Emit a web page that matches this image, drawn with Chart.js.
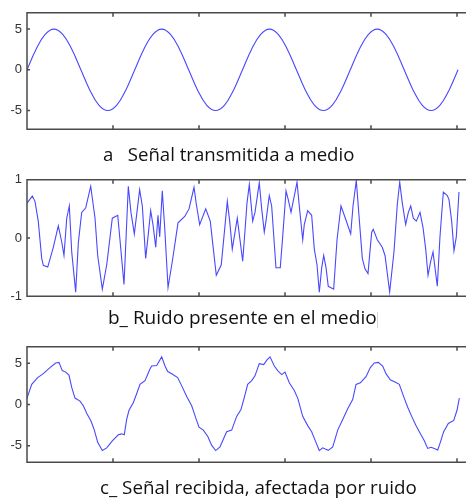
<!DOCTYPE html>
<html>
<head>
<meta charset="utf-8">
<script src="https://cdn.jsdelivr.net/npm/chart.js@4/dist/chart.umd.min.js"></script>
<style>
    html, body { margin: 0; padding: 0; background: #fff; }
    #page { position: relative; width: 466px; height: 500px; overflow: hidden; }
    canvas { position: absolute; left: 0; }
    .cap {
        position: absolute; white-space: pre; color: #111;
        font-family: "Open Sans", Lato, sans-serif; line-height: 1;
    }
    .mark { position: absolute; background: #d4d4d4; }
</style>
</head>
<body>
<div id="page">
    <canvas id="chart-a" width="466" height="142" style="top:0"></canvas>
    <canvas id="chart-b" width="466" height="142" style="top:167px"></canvas>
    <canvas id="chart-c" width="466" height="141" style="top:334px"></canvas>
    <div class="cap" style="left:103px; top:144.5px; font-size:18.6px">a   Señal transmitida a medio</div>
    <div class="cap" style="left:108px; top:308.1px; font-size:19px">b_ Ruido presente en el medio</div>
    <div class="mark" style="left:377px; top:312px; width:1px; height:16px"></div>
    <div class="cap" style="left:100px; top:478px; font-size:18.8px">c_ Señal recibida, afectada por ruido</div>
</div>
<script>
// x axis: time units, ticks at every unit (no labels shown)
const xTicks = [0, 1, 2, 3, 4, 5];

// a: transmitted signal (12 samples per period)
const sineStep = 0.10442;
const sineA = [
    0, 2.5, 4.33, 5, 4.33, 2.5, 0, -2.5, -4.33, -5, -4.33, -2.5,
    0, 2.5, 4.33, 5, 4.33, 2.5, 0, -2.5, -4.33, -5, -4.33, -2.5,
    0, 2.5, 4.33, 5, 4.33, 2.5, 0, -2.5, -4.33, -5, -4.33, -2.5,
    0, 2.5, 4.33, 5, 4.33, 2.5, 0, -2.5, -4.33, -5, -4.33, -2.5,
    0,
];
const yTicksA = [-5, 0, 5];

// b: noise
const noiseT = [
    0, 0.062, 0.093, 0.131, 0.171, 0.190, 0.241, 0.306, 0.364, 0.403, 0.430, 0.462, 0.492, 0.520, 0.566,
    0.597, 0.636, 0.683, 0.741, 0.791, 0.822, 0.876, 0.927, 0.992, 1.055, 1.081, 1.128, 1.178, 1.209, 1.248,
    1.310, 1.341, 1.380, 1.407, 1.438, 1.465, 1.497, 1.523, 1.543, 1.573, 1.601, 1.640, 1.690, 1.756, 1.834,
    1.884, 1.942, 1.969, 2.008, 2.078, 2.131, 2.163, 2.201, 2.259, 2.329, 2.357, 2.387, 2.445, 2.508, 2.535,
    2.558, 2.585, 2.624, 2.651, 2.701, 2.729, 2.759, 2.779, 2.817, 2.845, 2.895, 2.945, 2.973, 3.012, 3.038,
    3.070, 3.140, 3.166, 3.206, 3.224, 3.264, 3.310, 3.341, 3.372, 3.399, 3.427, 3.450, 3.477, 3.503, 3.566,
    3.605, 3.651, 3.709, 3.764, 3.791, 3.829, 3.860, 3.899, 3.930, 3.965, 4.008, 4.026, 4.073, 4.131, 4.163,
    4.217, 4.267, 4.306, 4.334, 4.364, 4.403, 4.434, 4.462, 4.492, 4.527, 4.570, 4.605, 4.636, 4.663, 4.694,
    4.721, 4.744, 4.771, 4.802, 4.841, 4.887, 4.907, 4.938, 4.965, 4.992, 5.023,
];
const noiseV = [
    0.60, 0.72, 0.63, 0.29, -0.35, -0.47, -0.50, -0.16, 0.21, -0.06, -0.30, 0.34, 0.55, -0.24, -0.93,
    -0.08, 0.44, 0.52, 0.89, 0.34, -0.30, -0.88, -0.46, 0.34, 0.39, -0.03, -0.80, 0.89, 0.44, 0.07,
    0.83, 0.55, -0.35, 0.02, 0.47, 0.23, -0.16, 0.39, 0.02, 0.81, 0.18, -0.85, -0.40, 0.26, 0.37,
    0.50, 0.87, 0.58, 0.23, 0.50, 0.29, -0.14, -0.64, -0.46, 0.63, 0.29, -0.19, 0.34, -0.40, 0.13,
    0.60, 0.92, 0.29, 0.44, 0.95, 0.50, 0.10, 0.29, 0.73, 0.55, -0.51, -0.51, 0.02, 0.81, 0.66,
    0.44, 0.96, 0.55, -0.03, 0.23, 0.47, 0.39, -0.19, -0.46, -0.93, -0.51, -0.30, -0.51, -0.83, -0.88,
    -0.03, 0.55, 0.31, 0.07, 0.55, 0.99, 0.39, -0.35, -0.53, -0.61, 0.10, 0.15, -0.03, -0.16, -0.30,
    -0.93, -0.24, 0.58, 0.96, 0.60, 0.23, 0.44, 0.55, 0.34, 0.29, 0.44, 0.18, -0.19, -0.64, -0.40,
    -0.24, -0.51, -0.83, 0.02, 0.79, 0.73, 0.66, 0.29, -0.22, 0.02, 0.79,
];
const yTicksB = [-1, 0, 1];

// c: received signal
const recvT = [
    0, 0.055, 0.124, 0.190, 0.267, 0.334, 0.372, 0.410, 0.450, 0.488, 0.520, 0.558, 0.616, 0.655, 0.694,
    0.744, 0.783, 0.822, 0.876, 0.927, 0.992, 1.062, 1.101, 1.131, 1.159, 1.186, 1.236, 1.276, 1.314, 1.372,
    1.430, 1.450, 1.508, 1.566, 1.605, 1.636, 1.683, 1.752, 1.799, 1.857, 1.915, 1.962, 2.000, 2.050, 2.101,
    2.148, 2.194, 2.244, 2.283, 2.322, 2.380, 2.438, 2.488, 2.527, 2.566, 2.613, 2.651, 2.701, 2.752, 2.791,
    2.826, 2.876, 2.915, 2.962, 3.000, 3.050, 3.108, 3.148, 3.206, 3.264, 3.310, 3.360, 3.399, 3.438, 3.469,
    3.503, 3.555, 3.613, 3.671, 3.729, 3.787, 3.826, 3.876, 3.942, 3.992, 4.038, 4.085, 4.136, 4.174, 4.224,
    4.279, 4.329, 4.380, 4.427, 4.473, 4.523, 4.581, 4.620, 4.659, 4.698, 4.736, 4.776, 4.806, 4.845, 4.899,
    4.962, 5.000, 5.027,
];
const recvV = [
    0.78, 2.44, 3.26, 3.74, 4.48, 5.04, 5.11, 4.11, 3.93, 3.56, 2.07, 0.78, 0.41, -0.15, -1.07,
    -2.00, -3.11, -4.59, -5.59, -5.26, -4.41, -3.67, -3.56, -3.67, -1.81, -0.70, 0.22, 1.33, 2.44, 2.89,
    4.30, 4.67, 4.74, 5.78, 4.67, 4.00, 3.74, 3.26, 2.26, 0.96, -0.15, -1.63, -2.74, -3.11, -3.85,
    -4.96, -5.59, -5.15, -4.22, -3.30, -3.11, -1.44, -0.62, 0.87, 2.44, 2.89, 3.48, 4.96, 4.85, 5.41,
    5.78, 4.67, 4.11, 3.63, 3.93, 2.63, 1.70, 0.78, -1.44, -2.56, -3.30, -4.59, -5.59, -5.26, -5.41,
    -5.56, -5.15, -3.11, -1.81, -0.52, 0.59, 2.44, 2.63, 3.37, 4.48, 5.04, 5.11, 4.67, 3.74, 3.00,
    2.74, 2.44, 0.96, -0.33, -1.44, -2.56, -3.67, -4.41, -5.33, -5.19, -5.33, -5.52, -4.59, -3.30, -2.30,
    -1.93, -0.70, 0.78,
];
const yTicksC = [-5, 0, 5];

const LINE = 'rgb(72, 72, 255)';
const FRAME = '#4a4a4a';

// axes box: top, left and bottom lines plus small inward ticks
const framePlugin = {
    id: 'frame',
    afterDatasetsDraw(chart) {
        const { ctx, chartArea: a, scales: { x, y } } = chart;
        ctx.save();
        ctx.strokeStyle = FRAME;
        ctx.lineWidth = 1.5;
        ctx.beginPath();
        ctx.moveTo(a.right + 2, a.top);
        ctx.lineTo(a.left, a.top);
        ctx.lineTo(a.left, a.bottom);
        ctx.lineTo(a.right + 2, a.bottom);
        for (const t of x.ticks) {
            const px = x.getPixelForValue(t.value);
            ctx.moveTo(px, a.top); ctx.lineTo(px, a.top + 4);
            ctx.moveTo(px, a.bottom); ctx.lineTo(px, a.bottom - 4);
        }
        for (const t of y.ticks) {
            const py = y.getPixelForValue(t.value);
            ctx.moveTo(a.left, py); ctx.lineTo(a.left + 3, py);
        }
        ctx.stroke();
        ctx.restore();
    },
};

function makePanel(id, xs, ys, yMin, yMax, yTicks, tension) {
    return new Chart(document.getElementById(id), {
        type: 'line',
        data: {
            datasets: [{
                data: xs.map((t, i) => ({ x: t, y: ys[i] })),
                borderColor: LINE,
                borderWidth: 1.1,
                pointRadius: 0,
                tension,
            }],
        },
        options: {
            responsive: false,
            animation: false,
            events: [],
            layout: { padding: { top: 10, bottom: 6, left: 0, right: 0 } },
            plugins: { legend: { display: false }, tooltip: { enabled: false } },
            scales: {
                x: {
                    type: 'linear', min: 0, max: 439 / 86, display: false,
                    afterBuildTicks: s => { s.ticks = xTicks.map(v => ({ value: v })); },
                },
                y: {
                    min: yMin, max: yMax,
                    afterBuildTicks: s => { s.ticks = yTicks.map(v => ({ value: v })); },
                    afterFit: s => { s.width = 27; },
                    grid: { display: false, drawTicks: false },
                    border: { display: false },
                    ticks: { color: '#333', padding: 5, font: { family: '"Liberation Sans", Arial, sans-serif', size: 13 } },
                },
            },
        },
        plugins: [framePlugin],
    });
}

makePanel('chart-a', sineA.map((_, i) => i * sineStep), sineA, -7.3, 7, yTicksA, 0.4);
makePanel('chart-b', noiseT, noiseV, -1, 1, yTicksB, 0);
makePanel('chart-c', recvT, recvV, -7, 7, yTicksC, 0);
</script>
</body>
</html>
